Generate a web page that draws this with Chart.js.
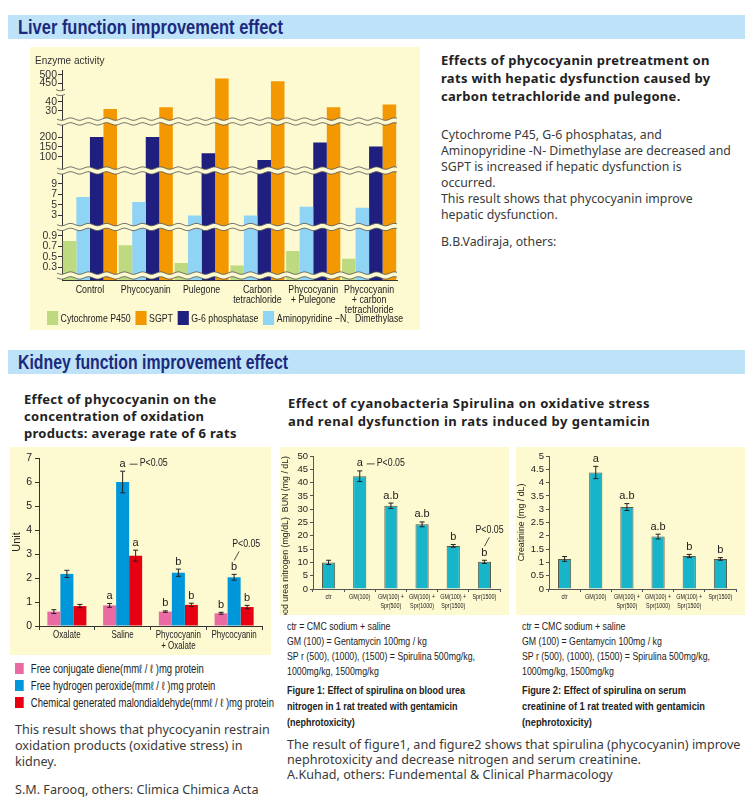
<!DOCTYPE html>
<html lang="en">
<head>
<meta charset="UTF-8">
<title>Phycocyanin: liver and kidney function</title>
<script src="https://cdn.jsdelivr.net/npm/chart.js"></script>
<style>
    body { margin: 0; }
    #page { position: relative; width: 750px; height: 808px; background: #fff; overflow: hidden;
            font-family: "Noto Sans", sans-serif; color: #333; }
    .hdr { position: absolute; left: 8px; width: 737px; height: 24px; background: #bee3f8; }
    .hdr span { position: absolute; left: 10px; top: 0; font-family: "Liberation Sans", Arial, sans-serif;
                font-weight: bold; font-size: 20px; line-height: 24px; color: #1c2a7e; white-space: nowrap; }
    .panel { position: absolute; background: #fdf9d0; }
    .txt { position: absolute; white-space: nowrap; }
    .fit { transform-origin: 0 0; }
    .lead { font-weight: bold; font-size: 13px; line-height: 18px; color: #222; letter-spacing: 0.3px; }
    .body { font-size: 12px; line-height: 16px; color: #3a3a3a; }
    .note { font-family: "Liberation Sans", Arial, sans-serif; font-size: 11px; line-height: 15px; color: #222; }
    .cap { font-family: "Liberation Sans", Arial, sans-serif; font-weight: bold; font-size: 11.5px; line-height: 16px; color: #222; }
    .legend { position: absolute; white-space: nowrap; font-family: "Liberation Sans", Arial, sans-serif; color: #222; }
    .legend i { display: inline-block; }
    #liverLegend { font-size: 11px; line-height: 14px; }
    #liverLegend span { margin-right: 6px; }
    #liverLegend i { width: 14px; height: 14px; margin-right: 3px; vertical-align: -3px; }
    #oxLegend { font-size: 12px; line-height: 17px; }
    #oxLegend span { display: block; }
    #oxLegend i { width: 11px; height: 11px; margin-right: 9px; vertical-align: -1px; }
</style>
</head>
<body>
<div id="page">
    <div class="hdr" style="top:15px"><span class="fit" data-w="265">Liver function improvement effect</span></div>
    <div class="panel" style="left:30px; top:47px; width:390px; height:283px">
        <canvas id="liverChart"></canvas>
    </div>
    <div class="legend fit" id="liverLegend" data-w="361" style="left:47px; top:311px"></div>
    <div class="txt lead" style="left:441px; top:51px">Effects of phycocyanin pretreatment on<br>rats with hepatic dysfunction caused by<br>carbon tetrachloride and pulegone.</div>
    <div class="txt body" style="left:441px; top:127px; font-size:12.3px">Cytochrome P45, G-6 phosphatas, and<br>Aminopyridine -N- Dimethylase are decreased and<br>SGPT is increased if hepatic dysfunction is<br>occurred.<br>This result shows that phycocyanin improve<br>hepatic dysfunction.</div>
    <div class="txt body" style="left:441px; top:234px; font-size:12.3px">B.B.Vadiraja, others:</div>

    <div class="hdr" style="top:350px"><span class="fit" data-w="270">Kidney function improvement effect</span></div>
    <div class="txt lead" style="left:24px; top:391px; line-height:17px">Effect of phycocyanin on the<br>concentration of oxidation<br>products: average rate of 6 rats</div>
    <div class="txt lead" style="left:288px; top:394px; letter-spacing:0.5px">Effect of cyanobacteria Spirulina on oxidative stress<br>and renal dysfunction in rats induced by gentamicin</div>

    <div class="panel" style="left:10px; top:447px; width:261px; height:208px"><canvas id="oxChart"></canvas></div>
    <div class="legend fit" id="oxLegend" data-w="259" style="left:15px; top:661px"></div>
    <div class="panel" style="left:280px; top:447px; width:229px; height:168px"><canvas id="bunChart"></canvas></div>
    <div class="panel" style="left:516px; top:447px; width:229px; height:168px"><canvas id="creatChart"></canvas></div>

    <div class="txt note fit" data-w="188" style="left:287px; top:619px">ctr = CMC sodium + saline<br>GM (100) = Gentamycin 100mg / kg<br>SP r (500), (1000), (1500) = Spirulina 500mg/kg,<br>1000mg/kg, 1500mg/kg</div>
    <div class="txt cap fit" data-w="178" style="left:287px; top:682px">Figure 1: Effect of spirulina on blood urea<br>nitrogen in 1 rat treated with gentamicin<br>(nephrotoxicity)</div>
    <div class="txt note fit" data-w="188" style="left:522px; top:619px">ctr = CMC sodium + saline<br>GM (100) = Gentamycin 100mg / kg<br>SP r (500), (1000), (1500) = Spirulina 500mg/kg,<br>1000mg/kg, 1500mg/kg</div>
    <div class="txt cap fit" data-w="183" style="left:522px; top:682px">Figure 2: Effect of spirulina on serum<br>creatinine of 1 rat treated with gentamicin<br>(nephrotoxicity)</div>
    <div class="txt body" style="left:287px; top:737px; line-height:15px; font-size:12.6px">The result of figure1, and figure2 shows that spirulina (phycocyanin) improve<br>nephrotoxicity and decrease nitrogen and serum creatinine.<br>A.Kuhad, others: Fundemental &amp; Clinical Pharmacology</div>

    <div class="txt body" style="left:15px; top:722px; font-size:12.6px">This result shows that phycocyanin restrain<br>oxidation products (oxidative stress) in<br>kidney.</div>
    <div class="txt body" style="left:15px; top:782px; font-size:12.6px">S.M. Farooq, others: Climica Chimica Acta</div>
</div>

<script>
// ---- liver data ----
const liverGroups = ['Control', 'Phycocyanin', 'Pulegone', ['Carbon', 'tetrachloride'],
    ['Phycocyanin', '+ Pulegone'], ['Phycocyanin', '+ carbon', 'tetrachloride']];
const cytochromeP450 = [0.80, 0.72, 0.38, 0.33, 0.61, 0.46];
const aminopyridine = [6.5, 5.5, 2.9, 2.9, 4.6, 4.4];
const g6Phosphatase = [200, 200, 118, 85, 172, 152];
const sgpt = [32, 34, 478, 461, 34, 37];
const liverTicksTop = [450, 500];
const liverTicksSgpt = [30, 40];
const liverTicksG6 = [100, 150, 200];
const liverTicksAmino = [3, 5, 7, 9];
const liverTicksCyt = [0.3, 0.5, 0.7, 0.9];

// ---- kidney: oxidation products ----
const oxGroups = ['Oxalate', 'Saline', ['Phycocyanin', '+ Oxalate'], 'Phycocyanin'];
const dieneVals = [0.60, 0.86, 0.60, 0.53];
const dieneErr = [0.08, 0.08, 0.03, 0.04];
const peroxideVals = [2.17, 6.00, 2.22, 2.03];
const peroxideErr = [0.15, 0.45, 0.15, 0.12];
const mdaVals = [0.83, 2.93, 0.88, 0.79];
const mdaErr = [0.07, 0.23, 0.07, 0.07];
const oxMarks = ['', 'a', 'b', 'b'];
const oxTicks = [0, 1, 2, 3, 4, 5, 6, 7];

// ---- kidney: gentamicin ----
const gmGroups = ['ctr', 'GM(100)', ['GM(100) +', 'Spr(500)'], ['GM(100) +', 'Spr(1000)'],
    ['GM(100) +', 'Spr(1500)'], 'Spr(1500)'];
const bunVals = [10.0, 42.4, 31.3, 24.3, 16.2, 10.2];
const bunErr = [0.8, 2.0, 1.0, 0.9, 0.5, 0.6];
const creatVals = [1.13, 4.38, 3.08, 1.97, 1.24, 1.13];
const creatErr = [0.09, 0.23, 0.13, 0.09, 0.06, 0.05];
const gmMarks = ['', 'a', 'a.b', 'a.b', 'b', 'b'];

const FONT = '"Liberation Sans", Arial, sans-serif';
const PANEL = '#fdf9d0';
Chart.defaults.font.family = FONT;
Chart.defaults.color = '#222';
Chart.defaults.animation = false;
Chart.defaults.plugins.tooltip.enabled = false;

// wavy double line used for the axis breaks
function wavyStrip(ctx, x0, x1, yc) {
    const gap = 2.4, amp = 1.2, per = 18;
    const w = (x, off) => yc + off + amp * Math.sin((x - x0) / per * 2 * Math.PI);
    ctx.save();
    ctx.beginPath();
    for (let x = x0; x <= x1; x++) ctx.lineTo(x, w(x, -gap));
    for (let x = x1; x >= x0; x--) ctx.lineTo(x, w(x, gap));
    ctx.closePath();
    ctx.fillStyle = PANEL;
    ctx.fill();
    ctx.strokeStyle = '#555';
    ctx.lineWidth = 0.8;
    [-gap, gap].forEach(off => {
        ctx.beginPath();
        for (let x = x0; x <= x1; x++) ctx.lineTo(x, w(x, off));
        ctx.stroke();
    });
    ctx.restore();
}

const axisBreaks = {
    id: 'axisBreaks',
    afterDatasetsDraw(chart, args, opts) {
        const {ctx, chartArea} = chart;
        opts.full.forEach(id => wavyStrip(ctx, chartArea.left - 5, chartArea.right, chart.scales[id].bottom));
        opts.axisOnly.forEach(id => wavyStrip(ctx, chartArea.left - 6, chartArea.left + 3, chart.scales[id].bottom));
    }
};

// category labels drawn narrower than the installed fonts allow
const narrowTicks = {
    id: 'narrowTicks',
    afterDraw(chart, args, o) {
        const sc = chart.scales.x, ctx = chart.ctx;
        ctx.save();
        ctx.font = o.size + 'px ' + FONT;
        ctx.fillStyle = '#222';
        ctx.textAlign = 'center';
        ctx.textBaseline = 'top';
        sc.ticks.forEach((t, i) => {
            [].concat(chart.data.labels[i]).forEach((ln, k) => {
                ctx.save();
                ctx.translate(sc.getPixelForTick(i), sc.top + o.top + k * o.lineHeight);
                ctx.scale(o.sx, 1);
                ctx.fillText(ln, 0, 0);
                ctx.restore();
            });
        });
        ctx.restore();
    }
};

const errorBars = {
    id: 'errorBars',
    afterDatasetsDraw(chart) {
        const ctx = chart.ctx;
        chart.data.datasets.forEach((ds, di) => {
            if (!ds.errors) return;
            const meta = chart.getDatasetMeta(di);
            const ys = chart.scales[meta.yAxisID];
            meta.data.forEach((bar, i) => {
                const top = ys.getPixelForValue(ds.data[i] + ds.errors[i]);
                const bot = ys.getPixelForValue(ds.data[i] - ds.errors[i]);
                ctx.save();
                ctx.strokeStyle = '#222';
                ctx.lineWidth = 1;
                ctx.beginPath();
                ctx.moveTo(bar.x, top); ctx.lineTo(bar.x, bot);
                ctx.moveTo(bar.x - 2.5, top); ctx.lineTo(bar.x + 2.5, top);
                ctx.moveTo(bar.x - 2.5, bot); ctx.lineTo(bar.x + 2.5, bot);
                ctx.stroke();
                if (ds.marks && ds.marks[i]) {
                    ctx.fillStyle = '#222';
                    ctx.font = '11px ' + FONT;
                    ctx.textAlign = 'center';
                    ctx.textBaseline = 'bottom';
                    ctx.fillText(ds.marks[i], bar.x, top - 2);
                }
                ctx.restore();
            });
        });
    }
};

// "P<0.05" notes next to / above a marked bar
const pNotes = {
    id: 'pNotes',
    afterDatasetsDraw(chart, args, opts) {
        const ctx = chart.ctx;
        (opts.notes || []).forEach(n => {
            const ds = chart.data.datasets[n.ds];
            const meta = chart.getDatasetMeta(n.ds);
            const bar = meta.data[n.idx];
            const markTop = chart.scales[meta.yAxisID].getPixelForValue(ds.data[n.idx] + ds.errors[n.idx]) - 13;
            ctx.save();
            ctx.strokeStyle = '#222';
            ctx.fillStyle = '#222';
            ctx.lineWidth = 0.8;
            ctx.font = '11px ' + FONT;
            ctx.textBaseline = 'middle';
            ctx.beginPath();
            let tx, ty;
            if (n.kind === 'side') {
                ty = markTop + 6;
                ctx.moveTo(bar.x + 7, ty); ctx.lineTo(bar.x + 15, ty);
                tx = bar.x + 17; ty -= 1;
            } else {
                ctx.moveTo(bar.x, markTop - 1); ctx.lineTo(bar.x + 5, markTop - 10);
                tx = bar.x + n.dx; ty = markTop - 17;
            }
            ctx.stroke();
            ctx.translate(tx, ty);
            ctx.scale(0.8, 1);
            ctx.fillText('P<0.05', 0, 0);
            ctx.restore();
        });
    }
};

function htmlLegend(elId, datasets) {
    const el = document.getElementById(elId);
    datasets.forEach(ds => {
        const it = document.createElement('span');
        const box = document.createElement('i');
        box.style.background = ds.backgroundColor;
        it.appendChild(box);
        it.appendChild(document.createTextNode(ds.label));
        el.appendChild(it);
    });
}

// ---- liver chart: one category axis, stacked value axes for the broken scale ----
const liverBands = [
    {id: 'yTop',   min: 395,  max: 530,  ticks: liverTicksTop,   weight: 22},
    {id: 'ySgpt',  min: 18,   max: 51,   ticks: liverTicksSgpt,  weight: 29.5},
    {id: 'yG6',    min: 32,   max: 278,  ticks: liverTicksG6,    weight: 49},
    {id: 'yAmino', min: 0.7,  max: 11.6, ticks: liverTicksAmino, weight: 56.5},
    {id: 'yCyt',   min: 0.14, max: 1.07, ticks: liverTicksCyt,   weight: 48.5},
    {id: 'yBase',  min: 0,    max: 0.14, ticks: [],              weight: 4.5}
];
const liverSeries = [
    {key: 'cyt',   label: 'Cytochrome P450', values: cytochromeP450, color: '#bdda80', home: ['yCyt']},
    {key: 'amino', label: 'Aminopyridine −N、Dimethylase', values: aminopyridine, color: '#8fd3f5', home: ['yAmino']},
    {key: 'g6',    label: 'G-6 phosphatase', values: g6Phosphatase, color: '#1f1f80', home: ['yG6']},
    {key: 'sgpt',  label: 'SGPT', values: sgpt, color: '#f39800', home: ['ySgpt', 'yTop']}
];
const legendOrder = ['cyt', 'sgpt', 'g6', 'amino'];

const liverDatasets = [];
liverSeries.forEach(s => {
    const lowestHome = Math.max(...s.home.map(h => liverBands.findIndex(b => b.id === h)));
    liverBands.forEach((b, bi) => {
        const data = s.values.map(v => {
            if (bi > lowestHome) return [b.min, b.max];
            if (s.home.includes(b.id) && v > b.min) return [b.min, Math.min(v, b.max)];
            return null;
        });
        liverDatasets.push({label: s.label, key: s.key, data, stack: s.key, yAxisID: b.id,
            backgroundColor: s.color, borderWidth: 0});
    });
});

const liverScales = {
    x: {grid: {display: false}, border: {display: true, color: '#333'},
        ticks: {display: false}, afterFit: s => { s.height = 27; }}
};
liverBands.slice().reverse().forEach(b => {
    liverScales[b.id] = {
        type: 'linear', position: 'left', stack: 'liver', stackWeight: b.weight,
        min: b.min, max: b.max, stacked: false,
        grid: {display: true, drawOnChartArea: false, drawTicks: true, tickLength: 4, color: '#333'},
        border: {display: true, color: '#333'},
        ticks: {autoSkip: false, font: {size: 10.5}, color: '#333', padding: 1},
        afterBuildTicks: s => { s.ticks = b.ticks.map(v => ({value: v})); },
        afterFit: s => { s.width = 27; }
    };
});

const liverChart = new Chart(document.getElementById('liverChart'), {
    type: 'bar',
    data: {labels: liverGroups, datasets: liverDatasets},
    options: {
        responsive: true,
        maintainAspectRatio: false,
        categoryPercentage: 0.97,
        barPercentage: 1,
        layout: {padding: {left: 5, right: 23, bottom: 23}},
        scales: liverScales,
        plugins: {
            title: {display: true, text: 'Enzyme activity', align: 'start', color: '#333',
                font: {size: 10, weight: 'normal'}, padding: {top: 8, bottom: 3}},
            legend: {display: false},
            narrowTicks: {size: 10.5, sx: 0.84, top: 5, lineHeight: 10},
            axisBreaks: {full: ['ySgpt', 'yG6', 'yAmino', 'yCyt'], axisOnly: ['yTop']}
        }
    },
    plugins: [axisBreaks, narrowTicks]
});
htmlLegend('liverLegend', liverChart.data.datasets
    .filter(d => d.yAxisID === 'yBase')
    .sort((a, b) => legendOrder.indexOf(a.key) - legendOrder.indexOf(b.key)));

// ---- kidney chart 1 ----
const oxChart = new Chart(document.getElementById('oxChart'), {
    type: 'bar',
    data: {
        labels: oxGroups,
        datasets: [
            {label: 'Free conjugate diene(mm\u2113 / \u2113 )mg protein', data: dieneVals, errors: dieneErr,
             marks: oxMarks, backgroundColor: '#ea6aa4'},
            {label: 'Free hydrogen peroxide(mm\u2113 / \u2113 )mg protein', data: peroxideVals, errors: peroxideErr,
             marks: oxMarks, backgroundColor: '#0096da'},
            {label: 'Chemical generated malondialdehyde(mm\u2113 / \u2113 )mg protein', data: mdaVals, errors: mdaErr,
             marks: oxMarks, backgroundColor: '#e60012'}
        ]
    },
    options: {
        responsive: true,
        maintainAspectRatio: false,
        categoryPercentage: 0.7,
        barPercentage: 1,
        layout: {padding: {top: 11, right: 9, left: 0, bottom: 0}},
        scales: {
            x: {grid: {drawOnChartArea: false, tickLength: 4, color: '#333'}, border: {color: '#333'},
                ticks: {display: false}, afterFit: s => { s.height = 29; }},
            y: {min: 0, max: 7,
                grid: {drawOnChartArea: false, tickLength: 4, color: '#333'}, border: {color: '#333'},
                ticks: {autoSkip: false, font: {size: 10.5}, color: '#222', padding: 3},
                afterBuildTicks: s => { s.ticks = oxTicks.map(v => ({value: v})); },
                title: {display: true, text: 'Unit', font: {size: 11}, padding: 0},
                afterFit: s => { s.width = 29; }}
        },
        plugins: {
            legend: {display: false},
            narrowTicks: {size: 10.5, sx: 0.76, top: 4, lineHeight: 11},
            pNotes: {notes: [{ds: 1, idx: 1, kind: 'side'}, {ds: 1, idx: 3, kind: 'slash', dx: -2}]}
        }
    },
    plugins: [errorBars, pNotes, narrowTicks]
});
htmlLegend('oxLegend', oxChart.data.datasets);

// ---- kidney charts 2 and 3 ----
function gmChart(id, values, errs, yTitle, titleAlign, max, step, notes) {
    return new Chart(document.getElementById(id), {
        type: 'bar',
        data: {labels: gmGroups, datasets: [{label: yTitle, data: values, errors: errs, marks: gmMarks,
            backgroundColor: '#18b4c9', borderColor: '#5a5a48', borderWidth: 1}]},
        options: {
            responsive: true,
            maintainAspectRatio: false,
            categoryPercentage: 0.9,
            barPercentage: 0.47,
            layout: {padding: {top: 9, right: 9, left: 0, bottom: 0}},
            scales: {
                x: {grid: {drawOnChartArea: false, tickLength: 3, color: '#555'}, border: {color: '#555'},
                    ticks: {display: false}, afterFit: s => { s.height = 26; }},
                y: {min: 0, max: max,
                    grid: {drawOnChartArea: false, tickLength: 3, color: '#555'}, border: {color: '#555'},
                    ticks: {autoSkip: false, stepSize: step, font: {size: 9.5}, color: '#222', padding: 2,
                        callback: v => String(v)},
                    title: {display: true, text: yTitle, align: titleAlign, font: {size: 8.8}, padding: 0},
                    afterFit: s => { s.width = 33; }}
            },
            plugins: {
                legend: {display: false},
                narrowTicks: {size: 7.5, sx: 0.72, top: 4, lineHeight: 9},
                pNotes: {notes: notes}
            }
        },
        plugins: [errorBars, pNotes, narrowTicks]
    });
}
gmChart('bunChart', bunVals, bunErr, 'Blood urea nitrogen (mg/dL)  BUN (mg / dL)', 'end', 50, 5,
    [{ds: 0, idx: 1, kind: 'side'}, {ds: 0, idx: 5, kind: 'slash', dx: -9}]);
gmChart('creatChart', creatVals, creatErr, 'Creatinine (mg / dL)', 'center', 5, 0.5, []);

// squeeze condensed-type text to the widths of the original layout
document.querySelectorAll('.fit').forEach(el => {
    const w = el.getBoundingClientRect().width;
    el.style.transform = 'scaleX(' + (+el.dataset.w / w) + ')';
});
</script>
</body>
</html>
